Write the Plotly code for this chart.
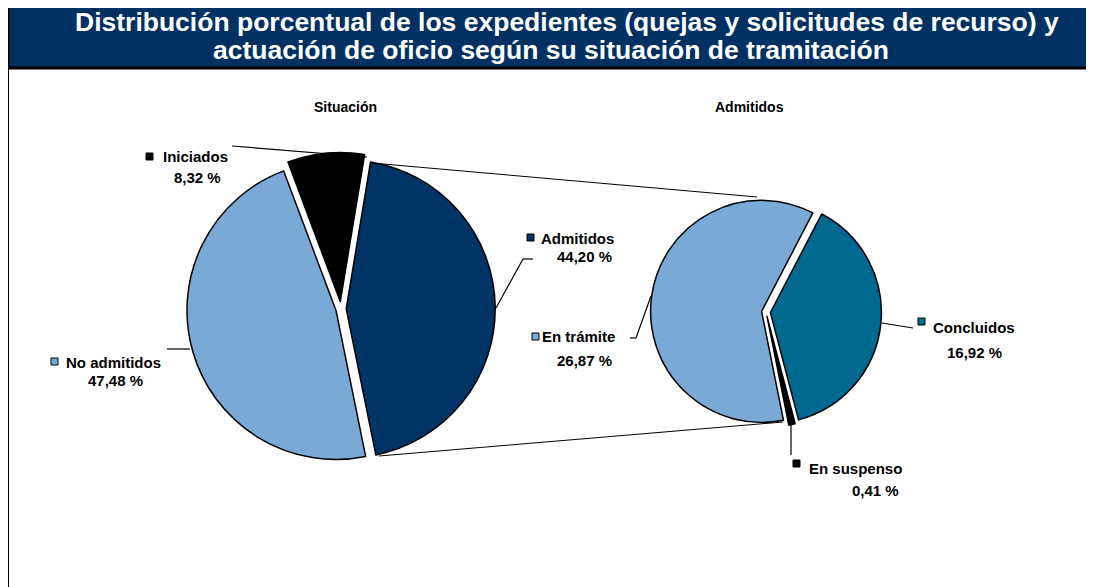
import plotly.graph_objects as go

# page has an 8px body margin: figure fills the rest of the 1094x587 window
OFF = 8
W, H = 1094 - OFF, 587 - OFF

# ---- data ----
title_line1 = "Distribución porcentual de los expedientes (quejas y solicitudes de recurso) y"
title_line2 = "actuación de oficio según su situación de tramitación"
left_title = "Situación"
right_title = "Admitidos"

left_labels = ["Admitidos", "No admitidos", "Iniciados"]
left_values = [44.20, 47.48, 8.32]
right_labels = ["Concluidos", "En suspenso", "En trámite"]
right_values = [16.92, 0.41, 26.87]

# ---- styles ----
NAVY = "#003366"
LIGHT = "#7BA9D6"
TEAL = "#00698F"
BLACK = "#000000"
left_colors = [NAVY, LIGHT, BLACK]
left_pull = [0.035, 0.035, 0.05]
right_colors = [TEAL, BLACK, LIGHT]
right_pull = [0.04, 0.04, 0.04]
FONT = "Liberation Sans, Arial, sans-serif"


def px(x):
    return (x - OFF) / W


def py(y):
    return 1 - (y - OFF) / H


def domain(cx, cy, r, maxpull):
    half = r * (1 + maxpull)
    return dict(x=[px(cx - half), px(cx + half)], y=[py(cy + half), py(cy - half)])


def fmt(v):
    return f"{v:.2f}".replace(".", ",") + " %"


fig = go.Figure()
fig.add_trace(go.Pie(
    labels=left_labels, values=left_values, sort=False, direction="clockwise",
    rotation=9.4, pull=left_pull, textinfo="none", hoverinfo="label+percent",
    marker=dict(colors=left_colors, line=dict(color="black", width=1.5)),
    domain=domain(341, 309, 149, max(left_pull)),
))
fig.add_trace(go.Pie(
    labels=right_labels, values=right_values, sort=False, direction="clockwise",
    rotation=27.5, pull=right_pull, textinfo="none", hoverinfo="label+percent",
    marker=dict(colors=right_colors, line=dict(color="black", width=1.5)),
    domain=domain(766, 312, 111, max(right_pull)),
))

shapes = []
# title bar
shapes.append(dict(type="rect", xref="paper", yref="paper", x0=px(8), x1=px(1100), y0=py(68), y1=py(5),
                   fillcolor="#003162", line=dict(color="black", width=3), layer="below"))
shapes.append(dict(type="line", xref="paper", yref="paper", x0=px(8), x1=px(8), y0=py(68), y1=py(590),
                   line=dict(color="black", width=2)))


def seg(points, width=1.2):
    for (x0, y0), (x1, y1) in zip(points[:-1], points[1:]):
        shapes.append(dict(type="line", xref="paper", yref="paper",
                           x0=px(x0), y0=py(y0), x1=px(x1), y1=py(y1),
                           line=dict(color="black", width=width)))


# connectors between pies
seg([(372, 163), (757, 197)], 1)
seg([(379, 456), (783, 422)], 1)
# leader lines
seg([(232, 146), (367, 157)])
seg([(496, 308), (523, 259), (533, 259)])
seg([(651, 296), (636, 338), (630, 338)])
seg([(167, 349), (190, 349)])
seg([(882, 323), (913, 328)])
seg([(791, 424), (791, 455)])


def square(x, y, color, size=7):
    shapes.append(dict(type="rect", xref="paper", yref="paper",
                       x0=px(x), x1=px(x + size), y0=py(y + size), y1=py(y),
                       fillcolor=color, line=dict(color="black", width=1)))


annotations = []


def text(x, y, s, size=15, anchor="left", color="black"):
    annotations.append(dict(xref="paper", yref="paper", x=px(x), y=py(y), text=s,
                            showarrow=False, xanchor=anchor, yanchor="middle",
                            font=dict(family=FONT, size=size, color=color)))


text(567, 22, f"<b>{title_line1}</b>", size=26.5, anchor="center", color="white")
text(551, 50, f"<b>{title_line2}</b>", size=26.5, anchor="center", color="white")
text(345, 107, f"<b>{left_title}</b>", size=14, anchor="center")
text(749, 107, f"<b>{right_title}</b>", size=14, anchor="center")

# labels: (name, value, square pos, name pos, value pos, value anchor, color)
label_specs = [
    (left_labels[2], left_values[2], (146, 153), (161, 157), (223, 177), "right", left_colors[2]),
    (left_labels[0], left_values[0], (527, 234), (539, 238), (614, 257), "right", left_colors[0]),
    (left_labels[1], left_values[1], (51, 358), (64, 362), (145, 380), "right", left_colors[1]),
    (right_labels[2], right_values[2], (532, 333), (540, 337), (614, 360), "right", right_colors[2]),
    (right_labels[0], right_values[0], (918, 318), (931, 327), (1004, 352), "right", right_colors[0]),
    (right_labels[1], right_values[1], (793, 460), (807, 468), (901, 490), "right", right_colors[1]),
]
for name, val, sq, npos, vpos, anc, col in label_specs:
    square(sq[0], sq[1], col)
    text(npos[0], npos[1], f"<b>{name}</b>")
    text(vpos[0], vpos[1], f"<b>{fmt(val)}</b>", anchor=anc)

fig.update_layout(
    width=W, height=H, margin=dict(l=0, r=0, t=0, b=0),
    paper_bgcolor="white", plot_bgcolor="white", showlegend=False,
    shapes=shapes, annotations=annotations,
    font=dict(family=FONT),
)
fig.write_html("out.html")
